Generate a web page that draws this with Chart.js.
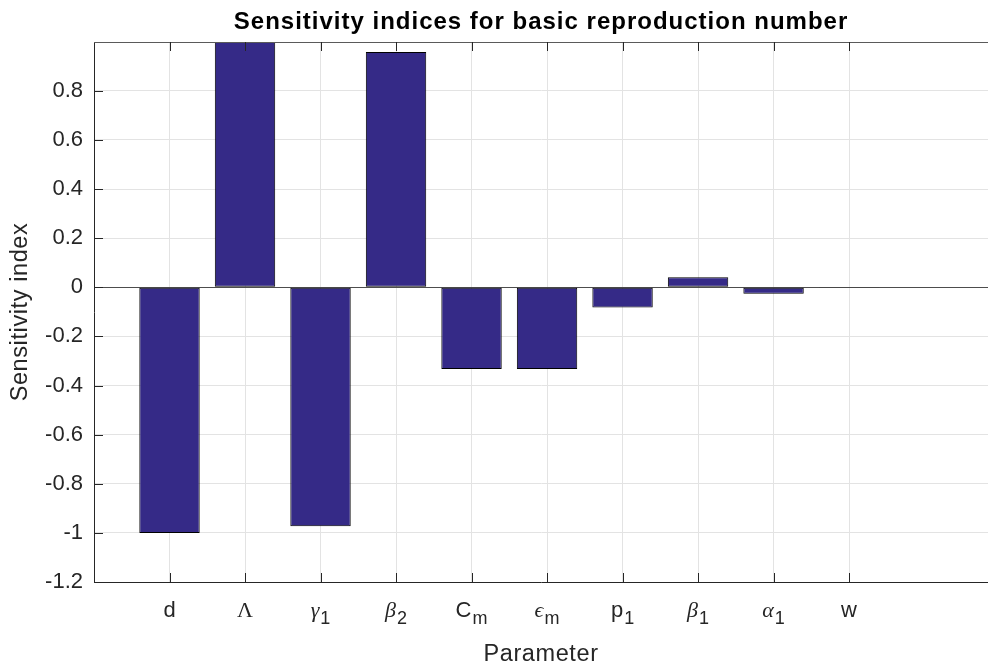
<!DOCTYPE html>
<html>
<head>
<meta charset="utf-8">
<script src="https://cdn.jsdelivr.net/npm/chart.js@4/dist/chart.umd.min.js"></script>
<style>
  html, body { margin: 0; padding: 0; background: #ffffff; overflow: hidden; }
  #wrap { width: 988px; height: 665px; position: relative; }
</style>
</head>
<body>
<div id="wrap"><canvas id="c" width="988" height="665"></canvas></div>
<script>
// ---- data ----
const paramBase = ['d', 'Λ', 'γ', 'β', 'C', 'ϵ', 'p', 'β', 'α', 'w'];
const paramSub  = ['',  '',  '1', '2', 'm', 'm', '1', '1', '1', ''];
const paramGreek = [false, true, true, true, false, true, false, true, true, false];
const sensitivity = [-1.0, 1.0, -0.973, 0.958, -0.333, -0.333, -0.082, 0.041, -0.026, -0.003];
const yTickValues = [-1.2, -1.0, -0.8, -0.6, -0.4, -0.2, 0, 0.2, 0.4, 0.6, 0.8];
const chartTitle = 'Sensitivity indices for basic reproduction number';
const xAxisTitle = 'Parameter';
const yAxisTitle = 'Sensitivity index';

const positions = paramBase.map((_, i) => i + 1);
const points = positions.map((p, i) => ({ x: p, y: sensitivity[i] }));

const AXIS_COLOR = '#262626';
const GRID_COLOR = '#e3e3e3';
const SANS = '"Liberation Sans", Arial, Helvetica, sans-serif';
const SERIF = '"Liberation Serif", "DejaVu Serif", serif';

function spaced(ctx, px) { if ('letterSpacing' in ctx) ctx.letterSpacing = px + 'px'; }

const matlabPlugin = {
  id: 'matlabLook',
  beforeDatasetsDraw(chart) {
    const { ctx, chartArea, scales } = chart;
    const y0 = scales.y.getPixelForValue(0);
    ctx.save();
    ctx.strokeStyle = '#4d4d4d';
    ctx.lineWidth = 1;
    ctx.beginPath();
    ctx.moveTo(chartArea.left, Math.round(y0) + 0.5);
    ctx.lineTo(chartArea.right, Math.round(y0) + 0.5);
    ctx.stroke();
    ctx.restore();
  },
  afterDraw(chart) {
    const { ctx, chartArea, scales } = chart;
    const xs = scales.x, ys = scales.y;
    ctx.save();
    // top box line
    ctx.strokeStyle = '#5a5a5a';
    ctx.lineWidth = 1;
    ctx.beginPath();
    ctx.moveTo(chartArea.left, chartArea.top + 0.5);
    ctx.lineTo(chartArea.right, chartArea.top + 0.5);
    ctx.stroke();
    // inward ticks
    ctx.strokeStyle = AXIS_COLOR;
    const tl = 9;
    ctx.beginPath();
    yTickValues.forEach(v => {
      const py = Math.round(ys.getPixelForValue(v)) + 0.5;
      ctx.moveTo(chartArea.left, py);
      ctx.lineTo(chartArea.left + tl, py);
    });
    positions.forEach(p => {
      const px = Math.round(xs.getPixelForValue(p)) + 0.5;
      ctx.moveTo(px, chartArea.bottom);
      ctx.lineTo(px, chartArea.bottom - tl);
      ctx.moveTo(px, chartArea.top);
      ctx.lineTo(px, chartArea.top + tl);
    });
    ctx.stroke();

    // x tick labels with subscripts
    ctx.fillStyle = AXIS_COLOR;
    ctx.textBaseline = 'alphabetic';
    ctx.textAlign = 'left';
    const baseY = 617;
    const baseFontSans = '22px ' + SANS;
    const subFont = '18px ' + SANS;
    paramBase.forEach((b, i) => {
      let baseFont = baseFontSans;
      if (paramGreek[i]) {
        baseFont = (b === 'Λ' ? '' : 'italic ') + '22px ' + SERIF;
      }
      ctx.font = baseFont;
      const wb = ctx.measureText(b).width;
      ctx.font = subFont;
      const s = paramSub[i];
      const ws = s ? ctx.measureText(s).width + 1 : 0;
      const cx = xs.getPixelForValue(positions[i]);
      const startX = cx - (wb + ws) / 2;
      ctx.font = baseFont;
      ctx.fillText(b, startX, baseY);
      if (s) {
        ctx.font = subFont;
        ctx.fillText(s, startX + wb + 1, baseY + 7);
      }
    });

    const cxAxis = (chartArea.left + chartArea.right) / 2;
    // chart title
    ctx.font = 'bold 24px ' + SANS;
    spaced(ctx, 1);
    ctx.fillStyle = '#000000';
    ctx.textAlign = 'center';
    ctx.fillText(chartTitle, cxAxis, 29);
    // x axis title
    ctx.font = '23.5px ' + SANS;
    spaced(ctx, 0.6);
    ctx.fillStyle = AXIS_COLOR;
    ctx.fillText(xAxisTitle, cxAxis, 661);
    // y axis title (rotated)
    ctx.save();
    ctx.translate(27, (chartArea.top + chartArea.bottom) / 2);
    ctx.rotate(-Math.PI / 2);
    ctx.font = '23.5px ' + SANS;
    spaced(ctx, 0.6);
    ctx.fillText(yAxisTitle, 0, 0);
    ctx.restore();
    ctx.restore();
  }
};

new Chart(document.getElementById('c'), {
  type: 'bar',
  data: {
    datasets: [{
      data: points,
      backgroundColor: 'rgb(53,42,135)',
      borderColor: '#000000',
      borderWidth: 1,
      borderSkipped: false,
      barPercentage: 0.8,
      categoryPercentage: 1.0
    }]
  },
  options: {
    responsive: false,
    animation: false,
    devicePixelRatio: 1,
    layout: { padding: { top: 42, left: 0, right: 0, bottom: 0 } },
    plugins: {
      legend: { display: false },
      title: { display: false },
      tooltip: { enabled: false }
    },
    scales: {
      x: {
        type: 'linear',
        position: 'bottom',
        offset: false,
        min: 0,
        max: 11.84,
        afterBuildTicks: (scale) => { scale.ticks = positions.map(v => ({ value: v })); },
        afterFit: (scale) => { scale.height = 83; },
        ticks: { display: false },
        grid: { color: GRID_COLOR, drawTicks: false, offset: false },
        border: { display: true, color: AXIS_COLOR, width: 1 },
        title: { display: false }
      },
      y: {
        type: 'linear',
        min: -1.2,
        max: 0.9985,
        afterBuildTicks: (scale) => { scale.ticks = yTickValues.map(v => ({ value: v })); },
        afterFit: (scale) => { scale.width = 94; },
        ticks: {
          color: AXIS_COLOR,
          font: { family: SANS, size: 22 },
          padding: 11,
          callback: (v) => String(Math.round(v * 10) / 10)
        },
        grid: { color: GRID_COLOR, drawTicks: false },
        border: { display: true, color: AXIS_COLOR, width: 1 },
        title: { display: false }
      }
    }
  },
  plugins: [matlabPlugin]
});
</script>
</body>
</html>
